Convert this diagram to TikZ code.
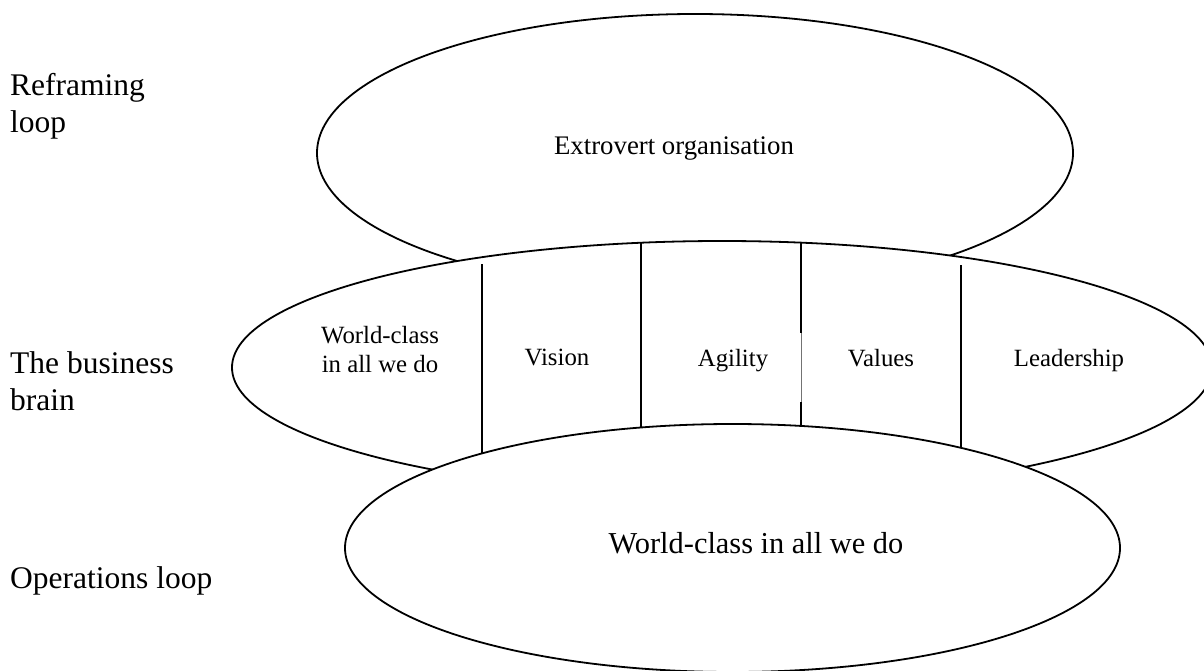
\documentclass[tikz,border=0pt]{standalone}
\usepackage{fontspec}
\setmainfont{Liberation Serif}
\usetikzlibrary{shapes.geometric}
\begin{document}
\begin{tikzpicture}[x=1pt,y=-1pt,
  loopshape/.style={ellipse, draw, line width=1.8pt, inner sep=0pt, fill=white},
  sidelabel/.style={anchor=base west, align=left, inner sep=0pt,
    font=\fontsize{31.5}{37}\selectfont},
  celltext/.style={anchor=base, align=center, inner sep=0pt,
    font=\fontsize{24.8}{29}\selectfont},
  divider/.style={line width=1.8pt},
  faint/.style={line width=0.6pt, black!55}]
\useasboundingbox (0,0) rectangle (1204,671);

% the three overlapping loops, top to bottom
\node[loopshape, minimum width=756pt, minimum height=278pt] (reframe) at (695,153) {};
\node[loopshape, minimum width=980pt, minimum height=253pt] (brain) at (722,367.5) {};

% dividers between the brain's cells
\coordinate (d1t) at (482,264); \coordinate (d1b) at (482,462);
\coordinate (d2t) at (641,242); \coordinate (d2b) at (641,440);
\coordinate (d3t) at (801,242); \coordinate (d3m) at (801,333);
\coordinate (d3n) at (801,402); \coordinate (d3b) at (801,440);
\coordinate (d4t) at (961,265); \coordinate (d4b) at (961,460);
\draw[divider] (d1t) -- (d1b);
\draw[divider] (d2t) -- (d2b);
\draw[divider] (d3t) -- (d3m);
\draw[faint] (d3m) -- (d3n);
\draw[divider] (d3n) -- (d3b);
\draw[divider] (d4t) -- (d4b);

\node[loopshape, minimum width=775pt, minimum height=248pt] (ops) at (732.5,548) {};

% texts inside the loops (a multi-line node sits on its last baseline)
\node[anchor=base, inner sep=0pt, font=\fontsize{26.8}{31}\selectfont] (extro) at (674,155) {Extrovert organisation};
\node[celltext] (cworld) at (380,372) {World-class\\in all we do};
\node[celltext] (cvision) at (557,365) {Vision};
\node[celltext] (cagility) at (733,366) {Agility};
\node[celltext] (cvalues) at (881,366) {Values};
\node[celltext] (clead) at (1069,366) {Leadership};
\node[anchor=base, inner sep=0pt, font=\fontsize{30.4}{35}\selectfont] (opstext) at (756,553) {World-class in all we do};

% level labels on the left
\node[sidelabel] (reframelbl) at (10,133) {Reframing\\loop};
\node[sidelabel] (brainlbl) at (10,410) {The business\\brain};
\node[sidelabel] (opslbl) at (10,588) {Operations loop};
\end{tikzpicture}
\end{document}
